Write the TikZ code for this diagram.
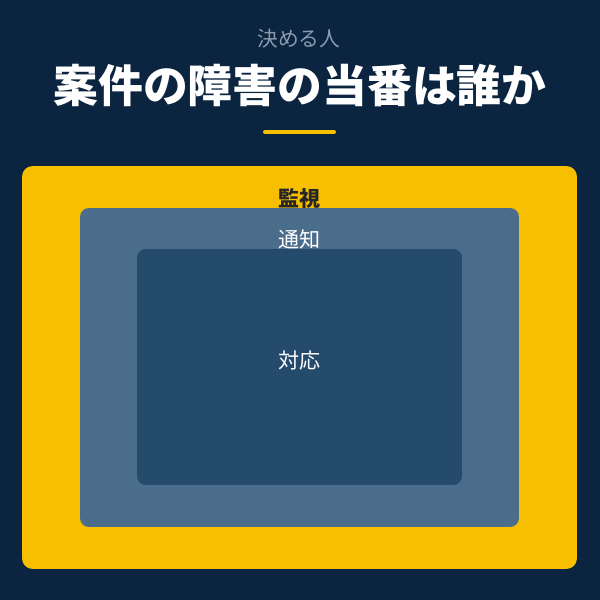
\documentclass[tikz,border=0pt]{standalone}
\usepackage{fontspec}
\newfontfamily\jpfont{Noto Sans CJK JP}
\usetikzlibrary{positioning}

\definecolor{navy}{HTML}{0B2440}
\definecolor{gold}{HTML}{F8BF00}
\definecolor{slate}{HTML}{4B6D8C}
\definecolor{deepslate}{HTML}{244A6C}
\definecolor{greytext}{HTML}{8C9BAE}

\tikzset{
  layer/.style={inner sep=0pt, outer sep=0pt},
  label text/.style={font=\jpfont\fontsize{12pt}{14pt}\selectfont, text=white},
}

\begin{document}
\begin{tikzpicture}[x=0.02cm, y=-0.02cm]
\fill[navy] (0,0) rectangle (600,600);
\useasboundingbox (0,0) rectangle (600,600);

\node (who) at (299,39) [font=\jpfont\fontsize{11.8pt}{13pt}\selectfont, text=greytext] {決める人};
\node (title) at (300,85) [font=\jpfont\bfseries\fontsize{25.5pt}{28pt}\selectfont, text=white] {案件の障害の当番は誰か};
\coordinate (barL) at (265,132);
\coordinate (barR) at (334,132);
\draw[gold, line width=2.3pt, line cap=round] (barL) -- (barR);

\node (watch) at (299.5,367.5) [layer, fill=gold, rounded corners=6pt, minimum width=11.1cm, minimum height=8.06cm] {};
\node (notify) at (299.5,367.5) [layer, fill=slate, rounded corners=5pt, minimum width=8.78cm, minimum height=6.38cm] {};
\node (respond) at (299.5,367) [layer, fill=deepslate, rounded corners=5pt, minimum width=6.5cm, minimum height=4.72cm] {};

\node (watchlbl) at (300,198) [label text, font=\jpfont\bfseries\fontsize{12pt}{14pt}\selectfont, text=black!85] {監視};
\node (notifylbl) at (300,239) [label text] {通知};
\node (respondlbl) at (300,360) [label text] {対応};
\end{tikzpicture}
\end{document}
